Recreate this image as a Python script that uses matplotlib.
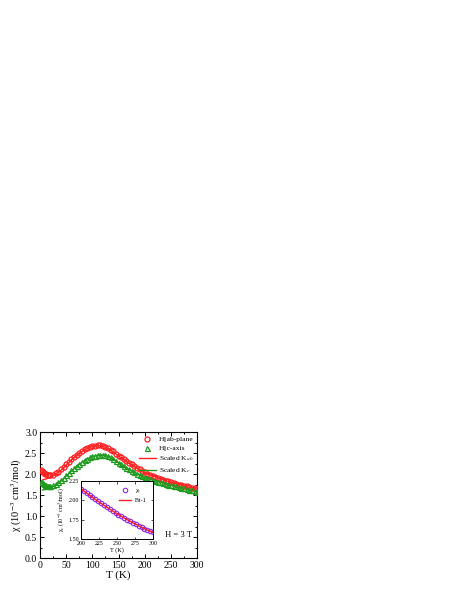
import matplotlib
matplotlib.use("Agg")
import matplotlib.pyplot as plt
from matplotlib.ticker import MultipleLocator, FormatStrFormatter

plt.rcParams["font.family"] = ["Liberation Serif", "DejaVu Serif"]
plt.rcParams["mathtext.fontset"] = "stix"

# H || ab-plane (open circles)
temp_ab = [2, 4, 6, 8, 10, 12, 15, 18, 20, 25, 30, 35, 40, 45, 50, 55, 60, 65, 70,
           75, 80, 85, 90, 95, 100, 105, 110, 115, 120, 125, 130, 135, 140, 145,
           150, 155, 160, 165, 170, 175, 180, 185, 190, 195, 200, 205, 210, 215,
           220, 225, 230, 235, 240, 245, 250, 255, 260, 265, 270, 275, 280, 285,
           290, 295, 300]
chi_ab = [2.09, 2.07, 2.05, 2.03, 2.01, 2.00, 1.99, 1.98, 1.98, 1.99, 2.02, 2.06,
          2.11, 2.17, 2.23, 2.29, 2.35, 2.41, 2.46, 2.51, 2.55, 2.59, 2.62, 2.65,
          2.67, 2.68, 2.69, 2.685, 2.67, 2.65, 2.62, 2.58, 2.54, 2.49,
          2.44, 2.40, 2.35, 2.31, 2.27, 2.23, 2.19, 2.15, 2.11, 2.075, 2.04,
          2.01, 1.98, 1.955, 1.93, 1.905, 1.885, 1.865, 1.845, 1.825, 1.805, 1.785,
          1.77, 1.75, 1.735, 1.72, 1.705, 1.69, 1.675, 1.66, 1.645]

# H || c-axis (open triangles)
temp_c = temp_ab
chi_c = [1.82, 1.80, 1.78, 1.76, 1.74, 1.73, 1.72, 1.72, 1.72, 1.74, 1.77, 1.81,
         1.86, 1.91, 1.97, 2.03, 2.09, 2.14, 2.20, 2.25, 2.29, 2.33, 2.37, 2.40,
         2.42, 2.44, 2.455, 2.46, 2.46, 2.45, 2.43, 2.40, 2.36, 2.32,
         2.27, 2.23, 2.19, 2.15, 2.11, 2.075, 2.04, 2.01, 1.98, 1.95, 1.925,
         1.90, 1.88, 1.86, 1.84, 1.82, 1.80, 1.78, 1.765, 1.75, 1.735, 1.72,
         1.705, 1.69, 1.675, 1.66, 1.645, 1.63, 1.615, 1.60, 1.585]

# scaled Knight shifts
temp_k = [5, 10, 15, 20, 25, 30, 35, 40, 45, 50, 60, 70, 80, 90, 100, 110, 120,
          130, 140, 150, 170, 200, 250, 300]
k_ab = [1.86, 1.88, 1.90, 1.93, 1.96, 2.00, 2.04, 2.09, 2.15, 2.21, 2.34, 2.45,
        2.54, 2.61, 2.66, 2.68, 2.66, 2.61, 2.53, 2.43, 2.26, 2.03, 1.80, 1.64]
k_c = [1.62, 1.63, 1.65, 1.67, 1.70, 1.74, 1.78, 1.83, 1.89, 1.95, 2.07, 2.19,
       2.28, 2.36, 2.41, 2.45, 2.45, 2.42, 2.35, 2.26, 2.10, 1.92, 1.73, 1.58]

# inset: chi_s and Fit-1
temp_s = [200, 204, 208, 212, 216, 220, 224, 228, 232, 236, 240, 244, 248, 252,
          256, 260, 264, 268, 272, 276, 280, 284, 288, 292, 296, 300]
chi_s = [2.150, 2.122, 2.094, 2.066, 2.039, 2.012, 1.986, 1.960, 1.935, 1.910,
         1.886, 1.862, 1.839, 1.816, 1.794, 1.772, 1.751, 1.730, 1.710, 1.690,
         1.671, 1.652, 1.634, 1.616, 1.599, 1.585]
temp_fit = [200, 210, 220, 230, 240, 250, 260, 270, 280, 290, 300]
chi_fit = [2.150, 2.081, 2.012, 1.948, 1.886, 1.828, 1.772, 1.720, 1.671, 1.625, 1.585]

red = "#ff2020"
green = "#1f9a1f"

fig = plt.figure(figsize=(4.57, 5.91), dpi=100)
ax = fig.add_axes([0.0875, 0.0558, 0.344, 0.213])

l_ab, = ax.plot(temp_k, k_ab, color=red, lw=1.0, zorder=2)
l_c, = ax.plot(temp_k, k_c, color=green, lw=1.0, zorder=2)
m_ab, = ax.plot(temp_ab, chi_ab, ls="none", marker="o", ms=3.6, mfc="none",
                mec=red, mew=0.9, zorder=3)
m_c, = ax.plot(temp_c, chi_c, ls="none", marker="^", ms=3.6, mfc="none",
               mec=green, mew=0.9, zorder=3)
leg = ax.legend([m_ab, m_c, l_ab, l_c],
                ["H||ab-plane", "H||c-axis", r"Scaled K$_{ab}$", r"Scaled K$_{c}$"],
                loc="upper right", frameon=False, fontsize=5.4, handlelength=2.3,
                labelspacing=0.4, borderaxespad=0.1, handletextpad=0.4)
leg.set_zorder(5)

ax.set_xlim(0, 300)
ax.set_ylim(0, 3.0)
ax.xaxis.set_major_locator(MultipleLocator(50))
ax.xaxis.set_minor_locator(MultipleLocator(25))
ax.yaxis.set_major_locator(MultipleLocator(0.5))
ax.yaxis.set_minor_locator(MultipleLocator(0.25))
ax.yaxis.set_major_formatter(FormatStrFormatter("%.1f"))
ax.tick_params(which="both", direction="in", top=True, right=True,
               labelsize=7, width=0.7, pad=2)
ax.tick_params(which="major", length=2.8)
ax.tick_params(which="minor", length=1.6)
for s in ax.spines.values():
    s.set_linewidth(0.8)
ax.set_xlabel("T (K)", fontsize=8, labelpad=0.5)
ax.set_ylabel(r"χ (10$^{-3}$ cm$^{3}$/mol)", fontsize=7.5, labelpad=1)
ax.text(265, 0.55, "H = 3 T", fontsize=6.2, ha="center", va="center")

ins = fig.add_axes([0.177, 0.088, 0.158, 0.098])
ins.plot(temp_s, chi_s, ls="none", marker="o", ms=3.2, mfc="none",
         mec="#8a2be2", mew=0.8, label=r"χ$_s$")
ins.plot(temp_fit, chi_fit, color=red, lw=1.0, label="Fit-1")
ins.set_xlim(200, 300)
ins.set_ylim(1.5, 2.25)
ins.xaxis.set_major_locator(MultipleLocator(25))
ins.yaxis.set_major_locator(MultipleLocator(0.25))
ins.yaxis.set_major_formatter(FormatStrFormatter("%.2f"))
ins.tick_params(which="both", direction="in", top=True, right=True,
                labelsize=4.3, width=0.5, length=1.8, pad=1.5)
for s in ins.spines.values():
    s.set_linewidth(0.7)
ins.set_xlabel("T (K)", fontsize=4.5, labelpad=0.5)
ins.set_ylabel(r"χ$_s$ (10$^{-3}$ cm$^{3}$/mol)", fontsize=4.2, labelpad=1)
ins.legend(loc="upper right", frameon=False, fontsize=4.3, handlelength=2.0,
           labelspacing=0.5, borderaxespad=0.6)

fig.savefig("out.png", dpi=100)
